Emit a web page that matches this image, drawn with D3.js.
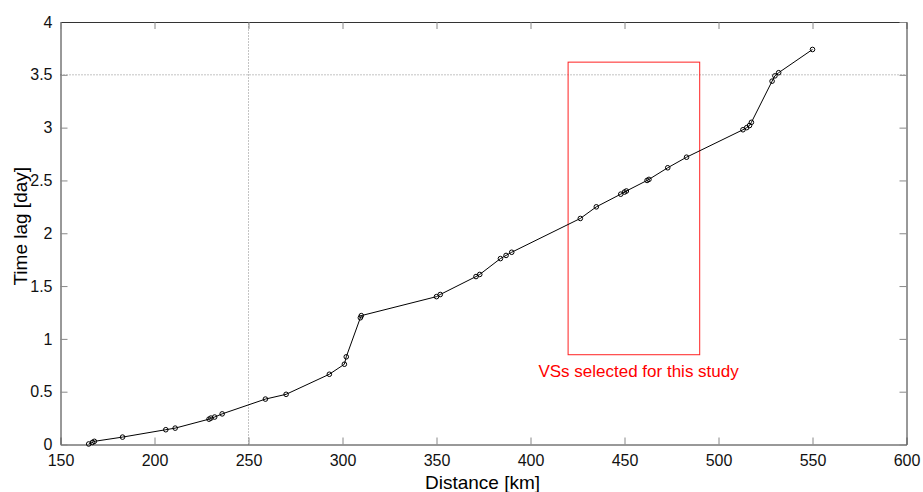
<!DOCTYPE html>
<html lang="en">
<head>
<meta charset="UTF-8">
<script src="https://d3js.org/d3.v7.min.js"></script>
<style>
  body { margin: 0; background: #fff; }
  text { font-family: "Liberation Sans", Arial, sans-serif; }
</style>
</head>
<body>
<svg id="chart" width="923" height="492"></svg>
<script>
// distance [km] of each VS and its time lag [day]
const distance = [165, 167, 168, 183, 206, 211, 229, 230, 232, 236, 259, 270, 293, 301, 302,
  309.5, 310, 350, 352, 371, 373, 384, 387, 390, 426.5, 435, 448, 450, 451, 462, 463,
  473, 483, 513, 515, 516.5, 517.5, 528.5, 530, 532, 550];
const timeLag = [0.005, 0.02, 0.03, 0.07, 0.14, 0.155, 0.24, 0.25, 0.26, 0.29, 0.43, 0.475, 0.665, 0.76, 0.83,
  1.2, 1.22, 1.40, 1.42, 1.59, 1.61, 1.76, 1.79, 1.82, 2.14, 2.25, 2.37, 2.39, 2.40, 2.50, 2.51,
  2.62, 2.72, 2.98, 3.0, 3.02, 3.05, 3.44, 3.49, 3.52, 3.74];

const xTicks = [150, 200, 250, 300, 350, 400, 450, 500, 550, 600];
const yTicks = [0, 0.5, 1, 1.5, 2, 2.5, 3, 3.5, 4];

// selected window
const selX = [420, 490];
const selY = [0.85, 3.62];
const selLabel = "VSs selected for this study";

const data = distance.map((d, i) => ({ x: d, y: timeLag[i] }));

const svg = d3.select("#chart");
const mLeft = 60.5, mRight = 906.5, mTop = 22, mBottom = 444.5;

const x = d3.scaleLinear().domain([150, 600]).range([mLeft, mRight]);
const y = d3.scaleLinear().domain([0, 4]).range([mBottom, mTop]);

// dotted reference lines
svg.append("line")
  .attr("x1", x(250)).attr("x2", x(250))
  .attr("y1", mBottom).attr("y2", mTop)
  .attr("stroke", "#888").attr("stroke-dasharray", "1,2");
svg.append("line")
  .attr("x1", mLeft).attr("x2", mRight)
  .attr("y1", y(3.5)).attr("y2", y(3.5))
  .attr("stroke", "#888").attr("stroke-dasharray", "1,2");

// axes, ticks pointing inside like matlab
svg.append("g")
  .attr("transform", `translate(0,${mBottom})`)
  .call(d3.axisBottom(x).tickValues(xTicks).tickSizeInner(-7).tickSizeOuter(0).tickPadding(10));
svg.append("g")
  .attr("transform", `translate(${mLeft},0)`)
  .call(d3.axisLeft(y).tickValues(yTicks).tickFormat(d3.format("")).tickSizeInner(-7).tickSizeOuter(0).tickPadding(8));
svg.append("g")
  .attr("transform", `translate(0,${mTop})`)
  .call(d3.axisTop(x).tickValues(xTicks).tickSizeInner(-7).tickSizeOuter(0).tickFormat(""));
svg.append("g")
  .attr("transform", `translate(${mRight},0)`)
  .call(d3.axisRight(y).tickValues(yTicks).tickSizeInner(-7).tickSizeOuter(0).tickFormat(""));

svg.selectAll(".domain").attr("stroke", "#333");
svg.selectAll(".tick line").attr("stroke", "#888");
svg.selectAll(".tick text").attr("font-size", 16).attr("fill", "#111")
  .style("font-family", "'Liberation Sans', Arial, sans-serif");

// axis titles
svg.append("text")
  .attr("x", (mLeft + mRight) / 2 - 1).attr("y", 489)
  .attr("text-anchor", "middle").attr("font-size", 19).attr("fill", "#000")
  .text("Distance [km]");
svg.append("text")
  .attr("transform", `translate(27,${(mTop + mBottom) / 2 - 7}) rotate(-90)`)
  .attr("text-anchor", "middle").attr("font-size", 19).attr("fill", "#000")
  .text("Time lag [day]");

// red box
svg.append("rect")
  .attr("x", x(selX[0])).attr("y", y(selY[1]))
  .attr("width", x(selX[1]) - x(selX[0]))
  .attr("height", y(selY[0]) - y(selY[1]))
  .attr("fill", "none").attr("stroke", "#f22");
svg.append("text")
  .attr("x", x(457.5)).attr("y", y(0.64))
  .attr("text-anchor", "middle").attr("font-size", 17).attr("fill", "#f00")
  .text(selLabel);

// line + markers
svg.append("path")
  .datum(data)
  .attr("fill", "none").attr("stroke", "#000").attr("stroke-width", 1)
  .attr("d", d3.line().x(d => x(d.x)).y(d => y(d.y)));

svg.selectAll("circle.pt")
  .data(data)
  .enter()
  .append("circle")
  .attr("class", "pt")
  .attr("cx", d => x(d.x))
  .attr("cy", d => y(d.y))
  .attr("r", 2.3)
  .attr("fill", "none")
  .attr("stroke", "#000")
  .attr("stroke-width", 1);
</script>
</body>
</html>
